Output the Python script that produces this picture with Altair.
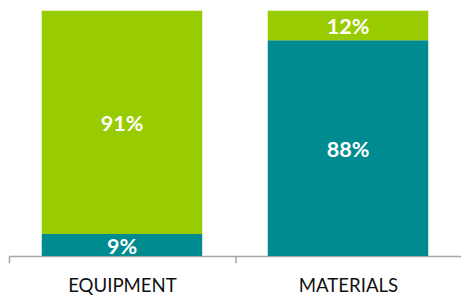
import altair as alt
import pandas as pd

categories = ["EQUIPMENT", "MATERIALS"]
teal_values = [9, 88]
green_values = [91, 12]
segments = ["teal", "green"]

rows = []
for i, c in enumerate(categories):
    rows.append({"cat": c, "seg": "teal", "order": 0, "value": teal_values[i]})
    rows.append({"cat": c, "seg": "green", "order": 1, "value": green_values[i]})
df = pd.DataFrame(rows)

base = alt.Chart(df).transform_stack(
    stack="value", groupby=["cat"], as_=["v0", "v1"], sort=[{"field": "order", "order": "ascending"}]
).transform_calculate(
    mid="(datum.v0 + datum.v1) / 2", label="datum.value + '%'"
)

W = 461
step = W / 2.0

x = alt.X(
    "cat:N",
    sort=categories,
    title=None,
    scale=alt.Scale(paddingInner=0.29, paddingOuter=0.145),
    axis=alt.Axis(
        labelAngle=0,
        tickOffset=-step / 2,
        labelOffset=step / 2,
        tickSize=7,
        tickColor="#a6a6a6",
        tickWidth=1.5,
        domainColor="#a6a6a6",
        domainWidth=1.5,
        labelFont="Lato",
        labelFontSize=19,
        labelColor="#111111",
        labelPadding=14,
    ),
)

bars = base.mark_bar().encode(
    x=x,
    y=alt.Y("v0:Q", scale=alt.Scale(domain=[0, 100]), axis=None),
    y2="v1:Q",
    color=alt.Color(
        "seg:N",
        scale=alt.Scale(domain=segments, range=["#008B90", "#99CC00"]),
        legend=None,
    ),
)

text = base.mark_text(
    color="white", font="Lato", fontSize=22, fontWeight="bold", baseline="middle", dy=2
).encode(
    x=alt.X("cat:N", sort=categories),
    y=alt.Y("mid:Q"),
    text="label:N",
)

chart = (
    alt.layer(bars, text)
    .properties(width=W, height=250, padding=0)
    .configure_view(stroke=None)
)

chart.save("out.html", embed_options={"renderer": "svg", "actions": False})
